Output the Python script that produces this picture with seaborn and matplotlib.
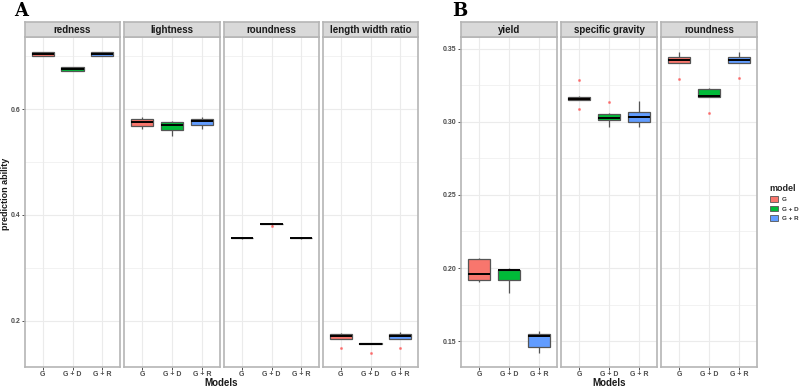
import numpy as np
import pandas as pd
import seaborn as sns
import matplotlib
matplotlib.use("Agg")
import matplotlib.pyplot as plt
from matplotlib.patches import Patch
from matplotlib.ticker import MultipleLocator

# ---------------- data ----------------
MODELS = ["G", "G + D", "G + R"]
COLORS = ["#F8766D", "#00BA38", "#619CFF"]

# Panel A traits (one list of replicate prediction abilities per model)
redness_G = [0.7004, 0.7005, 0.7006, 0.7030, 0.7043, 0.7060, 0.7080, 0.7081, 0.7082]
redness_GD = [0.6715, 0.6716, 0.6717, 0.6740, 0.6758, 0.6780, 0.6800, 0.6801, 0.6802]
redness_GR = [0.7004, 0.7005, 0.7006, 0.7030, 0.7045, 0.7060, 0.7080, 0.7081, 0.7082]

lightness_G = [0.562, 0.565, 0.568, 0.572, 0.575, 0.578, 0.581, 0.583, 0.585]
lightness_GD = [0.550, 0.555, 0.560, 0.566, 0.570, 0.573, 0.575, 0.577, 0.578]
lightness_GR = [0.563, 0.566, 0.569, 0.573, 0.577, 0.580, 0.582, 0.583, 0.585]

roundA_G = [0.3555, 0.3556, 0.3557, 0.3558, 0.3560, 0.3562, 0.3563, 0.3564, 0.3565]
roundA_GD = [0.3783, 0.3820, 0.3822, 0.3825, 0.3828, 0.3830, 0.3832, 0.3834, 0.3836]
roundA_GR = [0.3555, 0.3556, 0.3557, 0.3558, 0.3560, 0.3562, 0.3563, 0.3564, 0.3565]

lwr_G = [0.1490, 0.1662, 0.1662, 0.1680, 0.1706, 0.1730, 0.1760, 0.1770, 0.1780]
lwr_GD = [0.1396, 0.1568, 0.1570, 0.1572, 0.1573, 0.1575, 0.1577, 0.1578, 0.1580]
lwr_GR = [0.1495, 0.1665, 0.1665, 0.1685, 0.1710, 0.1735, 0.1762, 0.1770, 0.1785]

# Panel B traits
yield_G = [0.1906, 0.1912, 0.1920, 0.1940, 0.1960, 0.2010, 0.2060, 0.2065, 0.2070]
yield_GD = [0.1827, 0.1870, 0.1916, 0.1950, 0.1984, 0.1985, 0.1987, 0.1995, 0.2000]
yield_GR = [0.1420, 0.1440, 0.1460, 0.1500, 0.1534, 0.1540, 0.1546, 0.1560, 0.1570]

sg_G = [0.3090, 0.3150, 0.3151, 0.3156, 0.3160, 0.3166, 0.3173, 0.3175, 0.3286]
sg_GD = [0.2968, 0.2990, 0.3012, 0.3020, 0.3027, 0.3040, 0.3058, 0.3060, 0.3135]
sg_GR = [0.2968, 0.2985, 0.3002, 0.3020, 0.3036, 0.3050, 0.3068, 0.3100, 0.3144]

roundB_G = [0.3297, 0.3402, 0.3404, 0.3412, 0.3423, 0.3433, 0.3443, 0.3460, 0.3482]
roundB_GD = [0.3064, 0.3168, 0.3169, 0.3174, 0.3180, 0.3200, 0.3226, 0.3230, 0.3233]
roundB_GR = [0.3300, 0.3403, 0.3405, 0.3415, 0.3427, 0.3435, 0.3443, 0.3460, 0.3482]

TRAITS_A = ["redness", "lightness", "roundness", "length width ratio"]
TRAITS_B = ["yield", "specific gravity", "roundness"]
DATA_A = [(redness_G, redness_GD, redness_GR),
          (lightness_G, lightness_GD, lightness_GR),
          (roundA_G, roundA_GD, roundA_GR),
          (lwr_G, lwr_GD, lwr_GR)]
DATA_B = [(yield_G, yield_GD, yield_GR),
          (sg_G, sg_GD, sg_GR),
          (roundB_G, roundB_GD, roundB_GR)]

YTICKS_A = [0.2, 0.4, 0.6]
YTICKS_B = [0.15, 0.20, 0.25, 0.30, 0.35]
YLABELS_A = ["0.2", "0.4", "0.6"]
YLABELS_B = ["0.15", "0.20", "0.25", "0.30", "0.35"]

# ---------------- figure ----------------
sns.set_theme(style="white")
plt.rcParams["font.family"] = ["Liberation Sans", "DejaVu Sans"]

W, H = 800, 389
fig = plt.figure(figsize=(W / 100, H / 100), dpi=100)
fig.patch.set_facecolor("white")

BORDER = "#B5B5B5"
GRID = "#EBEBEB"
PAL = dict(zip(MODELS, COLORS))


def rect(x0, y0, x1, y1):
    return [x0 / W, 1 - y1 / H, (x1 - x0) / W, (y1 - y0) / H]


def make_panel(x0, x1, title, groups, ylim, yticks, ylabels, minor, show_y):
    ax = fig.add_axes(rect(x0, 37, x1, 367))
    df = pd.DataFrame({
        "model": np.repeat(MODELS, [len(g) for g in groups]),
        "value": np.concatenate([np.asarray(g) for g in groups]),
    })
    sns.boxplot(data=df, x="model", y="value", hue="model", order=MODELS,
                hue_order=MODELS, palette=PAL, saturation=1, width=0.75,
                linecolor="#555555", linewidth=0.9, legend=False, ax=ax,
                showcaps=False,
                medianprops=dict(color="black", linewidth=1.4),
                flierprops=dict(marker="o", markersize=1.2,
                                markerfacecolor="#FF4040",
                                markeredgecolor="#FF4040", alpha=0.5))
    ax.set_xlim(-0.6, 2.6)
    ax.set_ylim(*ylim)
    ax.set_yticks(yticks)
    ax.yaxis.set_minor_locator(MultipleLocator(minor))
    ax.set_axisbelow(True)
    ax.grid(True, which="major", color=GRID, linewidth=0.8)
    ax.grid(True, which="minor", axis="y", color=GRID, linewidth=0.45)
    ax.set_xlabel("")
    ax.set_ylabel("")
    ax.tick_params(axis="x", length=2, width=0.6, color="#333333",
                   labelsize=5, labelcolor="#4D4D4D", pad=0.8, bottom=True)
    ax.tick_params(axis="y", which="major", length=2, width=0.6,
                   color="#333333", labelsize=5, labelcolor="#4D4D4D",
                   pad=1.2, left=show_y)
    ax.tick_params(axis="y", which="minor", length=0, left=False)
    if show_y:
        ax.set_yticklabels(ylabels)
    else:
        ax.set_yticklabels([])
    for lab in ax.get_xticklabels() + ax.get_yticklabels():
        lab.set_fontweight("bold")
    for s in ax.spines.values():
        s.set_color(BORDER)
        s.set_linewidth(1.2)
    # strip
    sax = fig.add_axes(rect(x0, 22, x1, 37))
    sax.set_facecolor("#D9D9D9")
    sax.set_xticks([])
    sax.set_yticks([])
    for s in sax.spines.values():
        s.set_color(BORDER)
        s.set_linewidth(1.2)
    sax.text(0.5, 0.45, title, ha="center", va="center", fontsize=7,
             fontweight="bold", color="#1A1A1A", transform=sax.transAxes)
    return ax


xa = [(25, 120), (124, 220), (224, 319), (323, 418)]
for i, (t, g) in enumerate(zip(TRAITS_A, DATA_A)):
    make_panel(xa[i][0], xa[i][1], t, g, (0.113, 0.736), YTICKS_A, YLABELS_A,
               0.1, i == 0)

xb = [(461, 557), (561, 657), (661, 757)]
for i, (t, g) in enumerate(zip(TRAITS_B, DATA_B)):
    make_panel(xb[i][0], xb[i][1], t, g, (0.1322, 0.3582), YTICKS_B, YLABELS_B,
               0.025, i == 0)

# axis titles and panel letters
fig.text(221 / W, 1 - 383.5 / H, "Models", ha="center", va="center",
         fontsize=7, fontweight="bold", color="#1A1A1A")
fig.text(609 / W, 1 - 383.5 / H, "Models", ha="center", va="center",
         fontsize=7, fontweight="bold", color="#1A1A1A")
fig.text(6 / W, 1 - 194 / H, "prediction ability", ha="center", va="center",
         rotation=90, fontsize=6.5, fontweight="bold", color="#1A1A1A")
fig.text(14 / W, 1 - 11 / H, "A", ha="left", va="center", fontsize=13,
         fontweight="bold", family="DejaVu Serif", color="black")
fig.text(452 / W, 1 - 11 / H, "B", ha="left", va="center", fontsize=13,
         fontweight="bold", family="DejaVu Serif", color="black")

# legend
handles = [Patch(facecolor=c, edgecolor="#555555", linewidth=0.6) for c in COLORS]
leg = fig.legend(handles, MODELS, loc="upper left",
                 bbox_to_anchor=(764 / W, 1 - 178 / H), frameon=False,
                 title="model", fontsize=4.5, title_fontsize=6.5,
                 handlelength=1.3, handleheight=0.9, handletextpad=0.6,
                 labelspacing=0.6, alignment="left")
leg.get_title().set_fontweight("bold")
for txt in leg.get_texts():
    txt.set_fontweight("bold")
    txt.set_color("#333333")

fig.savefig("out.png", dpi=100, facecolor="white")
